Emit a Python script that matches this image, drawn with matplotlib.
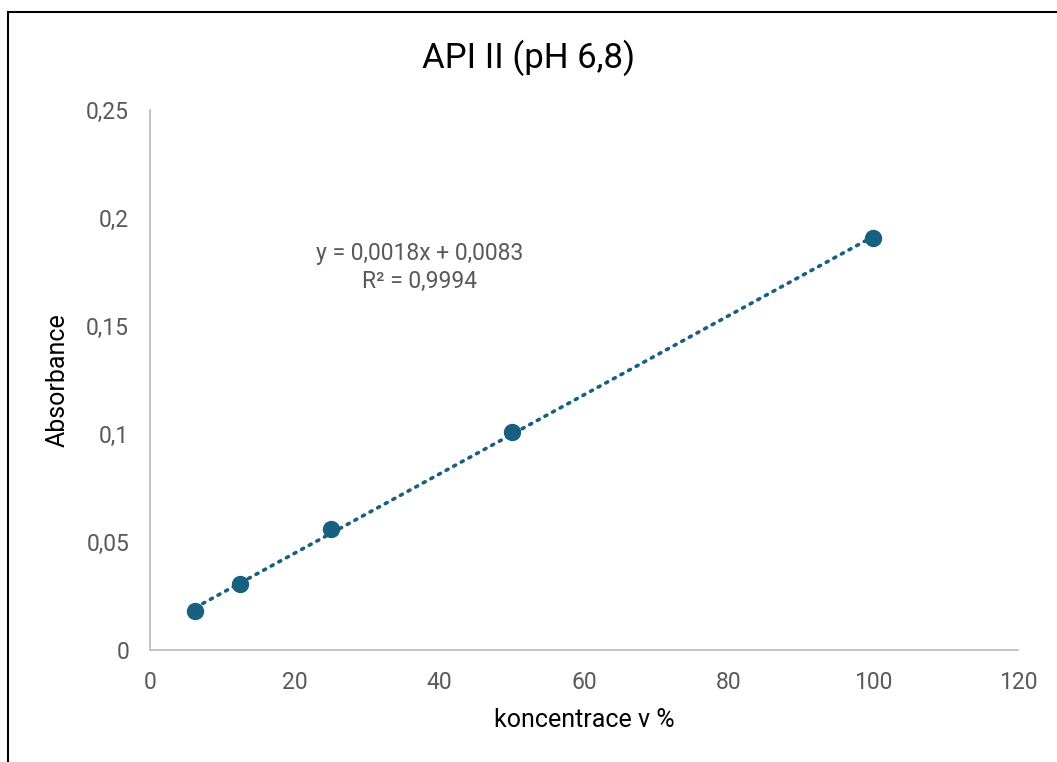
import numpy as np
import matplotlib
matplotlib.use("Agg")
import matplotlib.pyplot as plt
from matplotlib.ticker import FuncFormatter
from matplotlib.patches import Rectangle

plt.rcParams['font.family'] = ['Roboto', 'DejaVu Sans']

koncentrace = [6.25, 12.5, 25, 50, 100]
absorbance = [0.018, 0.0305, 0.056, 0.1008, 0.1906]
rovnice = "y = 0,0018x + 0,0083"
r2_text = "R² = 0,9994"

col = '#185f80'
grey = '#595959'

fig = plt.figure(figsize=(10.57, 7.62), dpi=100)
ax = fig.add_axes([150/1057, 112/762, 868/1057, 540/762])

# trendline from least squares fit
k, q = np.polyfit(koncentrace, absorbance, 1)
xt = np.array([min(koncentrace), max(koncentrace)])
ax.plot(xt, k*xt + q, linestyle=(0, (0.6, 1.8)), dash_capstyle='round',
        color=col, lw=2.6, zorder=2)
ax.plot(koncentrace, absorbance, 'o', color=col, ms=11.5, zorder=3)

ax.set_xlim(0, 120)
ax.set_ylim(0, 0.25)
ax.set_xticks(range(0, 121, 20))
ax.set_yticks([0, 0.05, 0.1, 0.15, 0.2, 0.25])
fmt = FuncFormatter(lambda v, p: ('%g' % v).replace('.', ','))
ax.yaxis.set_major_formatter(fmt)
ax.xaxis.set_major_formatter(fmt)
ax.tick_params(length=0, labelsize=16.5, colors=grey, pad=15)
for s in ['top', 'right']:
    ax.spines[s].set_visible(False)
for s in ['left', 'bottom']:
    ax.spines[s].set_color('#bfbfbf')
    ax.spines[s].set_linewidth(1.3)

ax.set_xlabel('koncentrace v %', fontsize=18, color='black', labelpad=10)
ax.set_ylabel('Absorbance', fontsize=18, color='black', labelpad=12)
fig.text(0.5, 1 - 58/762, 'API II (pH 6,8)', fontsize=25, ha='center', va='center')

ax.text(37.3, 0.1835, rovnice, fontsize=16.5, color=grey, ha='center', va='center')
ax.text(37.3, 0.1705, r2_text, fontsize=16.5, color=grey, ha='center', va='center')

fig.patches.append(Rectangle((8/1057, -0.1), 1.2, (1 - 12/762) + 0.1,
                             transform=fig.transFigure, fill=False,
                             edgecolor='black', lw=1.5))

fig.savefig('out.png', dpi=100)
